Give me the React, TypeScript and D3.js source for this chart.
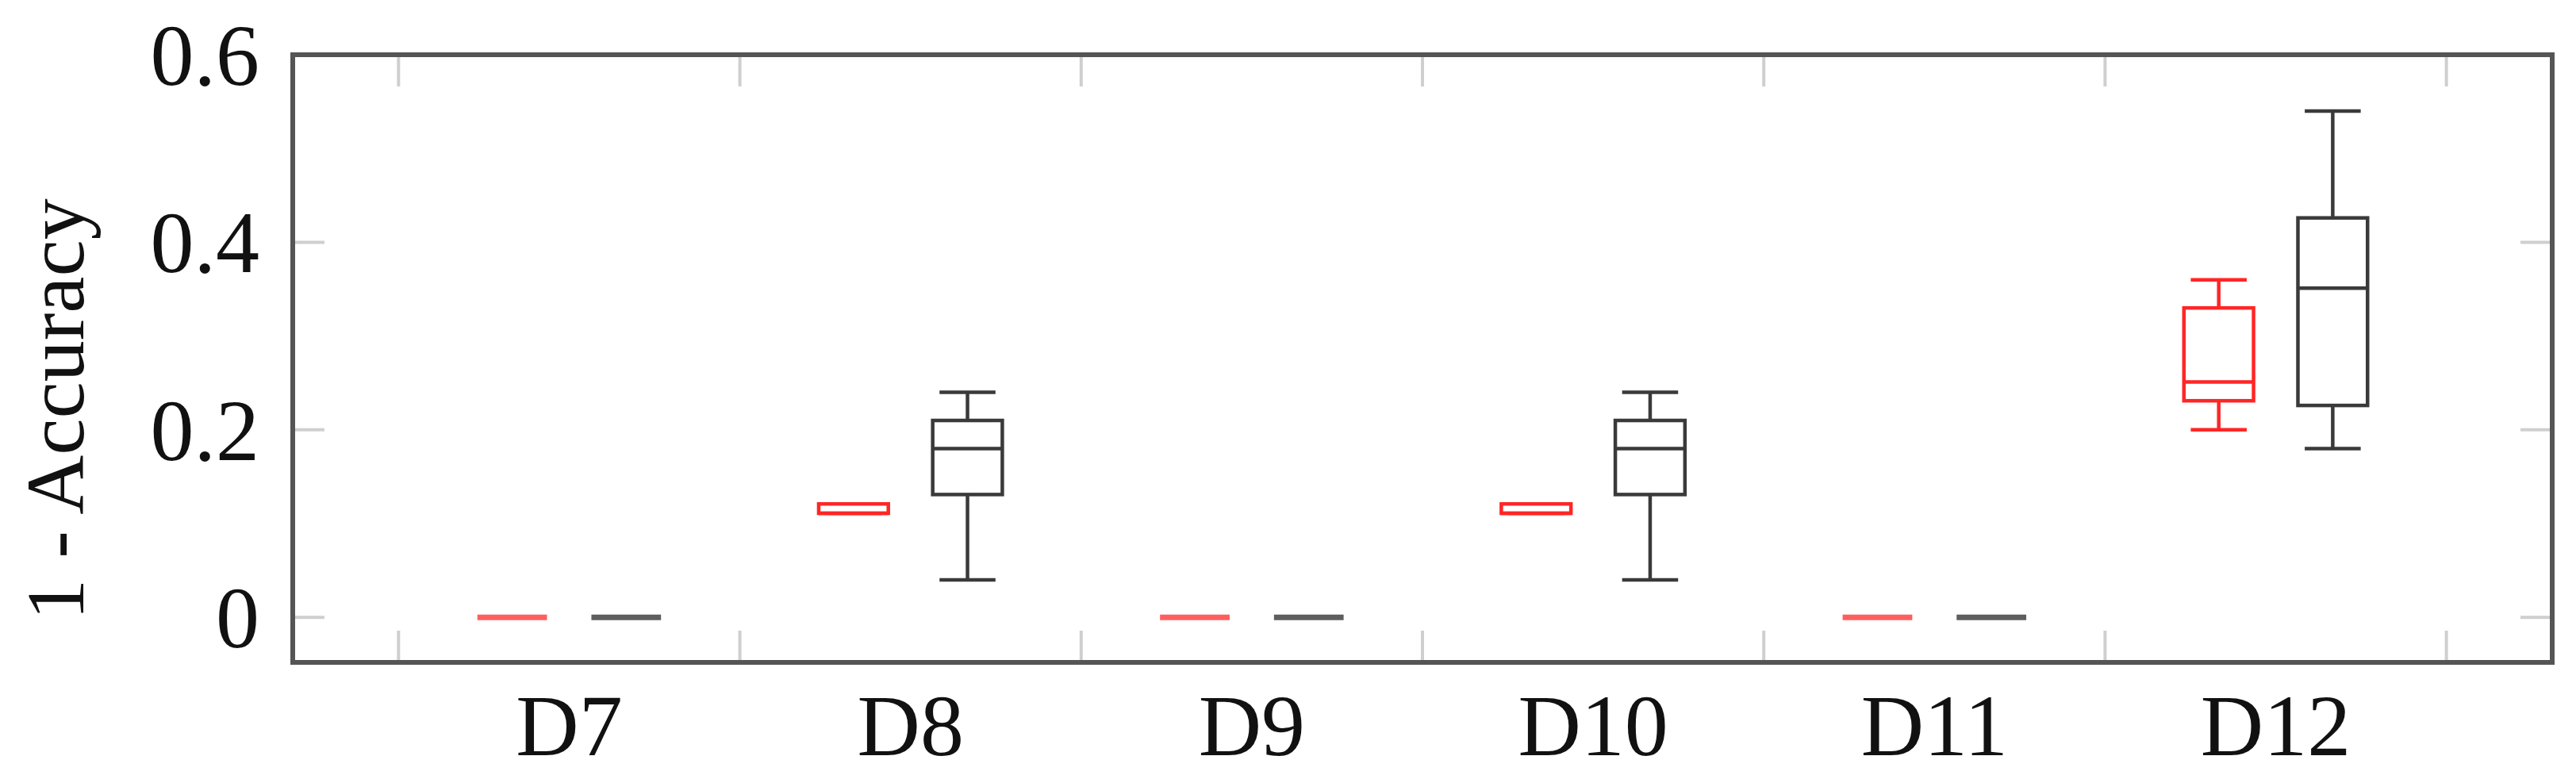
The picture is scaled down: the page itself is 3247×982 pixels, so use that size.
import React from "react";
import * as d3 from "d3";

// categories and five-number summaries
const categories = ["D7", "D8", "D9", "D10", "D11", "D12"];

const redMin = [0, 0.111, 0, 0.111, 0, 0.2];
const redQ1 = [0, 0.111, 0, 0.111, 0, 0.231];
const redMedian = [0, 0.111, 0, 0.111, 0, 0.251];
const redQ3 = [0, 0.121, 0, 0.121, 0, 0.33];
const redMax = [0, 0.121, 0, 0.121, 0, 0.36];

const blackMin = [0, 0.04, 0, 0.04, 0, 0.18];
const blackQ1 = [0, 0.131, 0, 0.131, 0, 0.226];
const blackMedian = [0, 0.18, 0, 0.18, 0, 0.351];
const blackQ3 = [0, 0.21, 0, 0.21, 0, 0.426];
const blackMax = [0, 0.24, 0, 0.24, 0, 0.54];

const yTicks = [0, 0.2, 0.4, 0.6];
const yTickLabels = ["0", "0.2", "0.4", "0.6"];
const yLabel = "1 - Accuracy";

const W = 3247;
const H = 982;
const FONT = "'Liberation Serif', 'Times New Roman', serif";

const x = d3.scaleLinear().domain([0.19, 6.81]).range([369, 3217]);
const y = d3.scaleLinear().domain([-0.048, 0.6]).range([835, 69]);

const series = [
  { color: "#ff2626", flat: "#ff5e5e", offset: -0.167, min: redMin, q1: redQ1, med: redMedian, q3: redQ3, max: redMax },
  { color: "#3a3a3a", flat: "#5e5e5e", offset: 0.167, min: blackMin, q1: blackQ1, med: blackMedian, q3: blackQ3, max: blackMax },
];

const boxHalf = 0.102; // half box width in category units
const capHalf = 0.082;

function Box({ cx, color, flat, mn, q1, md, q3, mx }) {
  const x0 = x(cx - boxHalf);
  const x1 = x(cx + boxHalf);
  const xm = x(cx);
  // a box with no spread collapses to one thick dash
  if (mn === mx) {
    return <line x1={x0} x2={x1} y1={y(mn)} y2={y(mn)} stroke={flat} strokeWidth={7} />;
  }
  return (
    <g stroke={color} strokeWidth={4.5} fill="none">
      <line x1={xm} x2={xm} y1={y(mx)} y2={y(q3)} />
      <line x1={xm} x2={xm} y1={y(q1)} y2={y(mn)} />
      <line x1={x(cx - capHalf)} x2={x(cx + capHalf)} y1={y(mx)} y2={y(mx)} />
      <line x1={x(cx - capHalf)} x2={x(cx + capHalf)} y1={y(mn)} y2={y(mn)} />
      <rect x={x0} y={y(q3)} width={x1 - x0} height={Math.max(0, y(q1) - y(q3))} fill="white" />
      <line x1={x0} x2={x1} y1={y(md)} y2={y(md)} />
    </g>
  );
}

export default function App() {
  const [xl, xr] = x.range();
  const [yb, yt] = y.range();
  const minorX = d3.range(0.5, categories.length + 1, 1);
  const tickLen = 40;

  return (
    <svg
      width={W}
      height={H}
      style={{ position: "absolute", left: 0, top: 0, display: "block", background: "white" }}
    >
      <rect width={W} height={H} fill="white" />

      {/* minor ticks between categories, top and bottom */}
      <g stroke="#cfcfcf" strokeWidth={4}>
        {minorX.map((t) => (
          <g key={t}>
            <line x1={x(t)} x2={x(t)} y1={yb} y2={yb - tickLen} />
            <line x1={x(t)} x2={x(t)} y1={yt} y2={yt + tickLen} />
          </g>
        ))}
        {yTicks.slice(0, 3).map((t) => (
          <g key={t}>
            <line x1={xl} x2={xl + tickLen} y1={y(t)} y2={y(t)} />
            <line x1={xr} x2={xr - tickLen} y1={y(t)} y2={y(t)} />
          </g>
        ))}
      </g>

      {/* boxes */}
      {categories.map((c, i) =>
        series.map((s, k) => (
          <Box
            key={c + k}
            cx={i + 1 + s.offset}
            color={s.color}
            flat={s.flat}
            mn={s.min[i]}
            q1={s.q1[i]}
            md={s.med[i]}
            q3={s.q3[i]}
            mx={s.max[i]}
          />
        ))
      )}

      {/* frame */}
      <rect x={xl} y={yt} width={xr - xl} height={yb - yt} fill="none" stroke="#555" strokeWidth={6} />

      {/* y tick labels */}
      {yTicks.map((t, i) => (
        <text
          key={t}
          x={327}
          y={y(t) + 38}
          textAnchor="end"
          fontFamily={FONT}
          fontSize={110}
          fill="#111"
        >
          {yTickLabels[i]}
        </text>
      ))}

      {/* category labels */}
      {categories.map((c, i) => (
        <text
          key={c}
          x={x(i + 1)}
          y={952}
          textAnchor="middle"
          fontFamily={FONT}
          fontSize={110}
          fill="#111"
        >
          {c}
        </text>
      ))}

      <text
        transform={`translate(105, ${516}) rotate(-90)`}
        textAnchor="middle"
        fontFamily={FONT}
        fontSize={104}
        fill="#111"
      >
        {yLabel}
      </text>
    </svg>
  );
}
